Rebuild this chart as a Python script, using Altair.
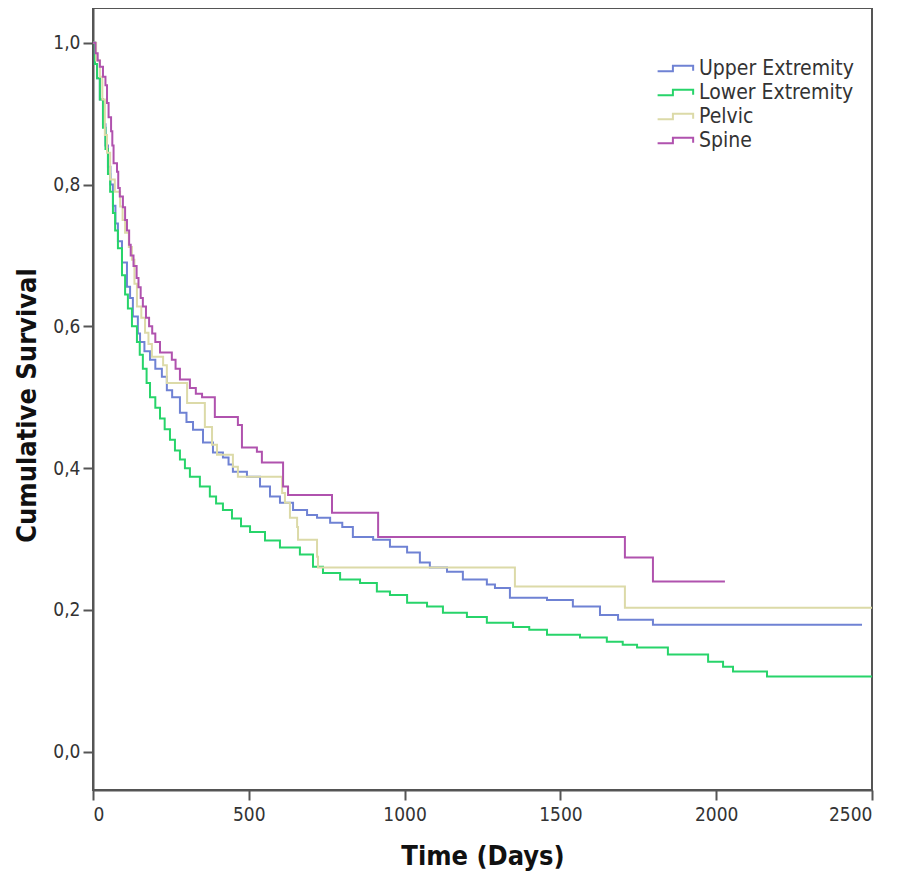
import altair as alt
import pandas as pd

series_names = ["Upper Extremity", "Lower Extremity", "Pelvic", "Spine"]
series_colors = ["#6f82d4", "#27d46a", "#dcdaa8", "#b052ae"]

upper_days = [0, 6, 13, 22, 32, 40, 48, 56, 64, 72, 80, 93, 109, 119, 128, 144, 151, 165, 183, 200,
              221, 237, 254, 279, 300, 321, 353, 385, 417, 435, 449, 494, 536, 568, 600, 642, 687,
              719, 761, 800, 834, 899, 953, 1008, 1049, 1081, 1136, 1187, 1264, 1290, 1338, 1457,
              1540, 1627, 1685, 1797, 2468]
upper_surv = [1.0, 0.97, 0.95, 0.92, 0.885, 0.855, 0.825, 0.80, 0.77, 0.745, 0.72, 0.69, 0.656,
              0.64, 0.614, 0.59, 0.578, 0.565, 0.553, 0.54, 0.529, 0.51, 0.50, 0.478, 0.465, 0.454,
              0.436, 0.422, 0.415, 0.405, 0.395, 0.388, 0.374, 0.36, 0.351, 0.341, 0.334, 0.33,
              0.323, 0.317, 0.303, 0.299, 0.289, 0.281, 0.267, 0.26, 0.254, 0.243, 0.236, 0.231,
              0.217, 0.214, 0.205, 0.193, 0.186, 0.179, 0.179]

lower_days = [0, 6, 13, 22, 32, 40, 48, 55, 64, 71, 80, 93, 103, 112, 125, 141, 150, 160, 172, 183,
              200, 215, 230, 247, 263, 279, 295, 311, 343, 375, 395, 417, 446, 475, 504, 552, 600,
              664, 706, 738, 793, 857, 911, 953, 1008, 1072, 1123, 1200, 1264, 1348, 1400, 1457,
              1563, 1649, 1700, 1746, 1845, 1974, 2022, 2054, 2163, 2500]
lower_surv = [1.0, 0.97, 0.95, 0.92, 0.88, 0.85, 0.815, 0.79, 0.76, 0.735, 0.71, 0.672, 0.645,
              0.625, 0.60, 0.578, 0.56, 0.54, 0.52, 0.50, 0.485, 0.47, 0.455, 0.44, 0.425, 0.412,
              0.40, 0.388, 0.374, 0.36, 0.35, 0.341, 0.329, 0.318, 0.31, 0.298, 0.288, 0.278,
              0.261, 0.252, 0.243, 0.238, 0.226, 0.221, 0.21, 0.205, 0.196, 0.19, 0.182, 0.176,
              0.172, 0.165, 0.161, 0.155, 0.151, 0.147, 0.137, 0.127, 0.12, 0.113, 0.106, 0.106]

pelvic_days = [0, 10, 22, 30, 38, 45, 55, 70, 87, 95, 103, 115, 125, 133, 141, 155, 167, 178, 189,
               225, 237, 302, 359, 382, 398, 449, 465, 607, 616, 632, 655, 658, 719, 722, 1354,
               1707, 2500]
pelvic_surv = [1.0, 0.975, 0.952, 0.92, 0.87, 0.845, 0.807, 0.79, 0.769, 0.75, 0.732, 0.712, 0.694,
               0.66, 0.628, 0.612, 0.591, 0.575, 0.557, 0.545, 0.52, 0.492, 0.458, 0.433, 0.419,
               0.402, 0.388, 0.365, 0.351, 0.33, 0.317, 0.299, 0.275, 0.26, 0.233, 0.203, 0.203]

spine_days = [0, 8, 15, 22, 32, 40, 45, 50, 58, 62, 66, 77, 81, 86, 96, 103, 109, 116, 121, 130,
              140, 146, 153, 160, 170, 180, 190, 200, 215, 253, 265, 279, 311, 330, 350, 391, 465,
              478, 526, 542, 610, 626, 767, 915, 1707, 1797, 2028]
spine_surv = [1.0, 0.985, 0.975, 0.966, 0.952, 0.94, 0.915, 0.895, 0.875, 0.855, 0.83, 0.818,
              0.795, 0.783, 0.768, 0.75, 0.735, 0.715, 0.70, 0.685, 0.668, 0.655, 0.64, 0.628,
              0.612, 0.60, 0.59, 0.578, 0.563, 0.553, 0.54, 0.525, 0.513, 0.505, 0.50, 0.472,
              0.461, 0.429, 0.423, 0.408, 0.374, 0.362, 0.337, 0.303, 0.274, 0.240, 0.240]

x_ticks = [0, 500, 1000, 1500, 2000, 2500]
y_ticks = [0.0, 0.2, 0.4, 0.6, 0.8, 1.0]

rows = []
for name, days, surv in zip(series_names,
                            [upper_days, lower_days, pelvic_days, spine_days],
                            [upper_surv, lower_surv, pelvic_surv, spine_surv]):
    for d, s in zip(days, surv):
        rows.append({"group": name, "day": d, "surv": s})
df = pd.DataFrame(rows)

FONT = "DejaVu Sans Condensed, Liberation Sans Narrow, DejaVu Sans"
AXC = "#555555"

step_symbol = "M-2.1,0.3 L-0.4,0.3 L-0.4,-0.3 L1.85,-0.3 L1.85,0.25"

chart = alt.Chart(df).mark_line(interpolate="step-after", strokeWidth=2).encode(
    x=alt.X("day:Q",
            scale=alt.Scale(domain=[0, 2500], nice=False, zero=False),
            axis=alt.Axis(title="Time (Days)", values=x_ticks, format="d", grid=False,
                          tickSize=10, tickWidth=2, tickColor=AXC, domainColor=AXC, domainWidth=2,
                          labelFont=FONT, labelFontSize=19, labelColor="#333333", labelPadding=5,
                          titleFont=FONT, titleFontSize=27, titleFontWeight="bold",
                          titleColor="#111111", titleY=66, titleBaseline="middle")),
    y=alt.Y("surv:Q",
            scale=alt.Scale(domain=[-0.054, 1.049], nice=False, zero=False),
            axis=alt.Axis(title="Cumulative Survival", values=y_ticks, grid=False,
                          labelExpr="replace(format(datum.value, '.1f'), '.', ',')",
                          tickSize=10, tickWidth=2, tickColor=AXC, domainColor=AXC, domainWidth=2,
                          labelFont=FONT, labelFontSize=19, labelColor="#333333", labelPadding=3,
                          titleFont=FONT, titleFontSize=27, titleFontWeight="bold",
                          titleColor="#111111", titleX=-66, titleY=397, titleBaseline="middle")),
    color=alt.Color("group:N",
                    scale=alt.Scale(domain=series_names, range=series_colors),
                    sort=series_names,
                    legend=alt.Legend(title=None, orient="none", legendX=573, legendY=50,
                                      symbolType=step_symbol, symbolSize=324,
                                      symbolStrokeWidth=2, labelFont=FONT, labelFontSize=21,
                                      labelColor="#333333", labelOffset=12, padding=0,
                                      rowPadding=2)),
).properties(
    width=779, height=782,
    padding={"left": 85, "top": 0, "right": 18, "bottom": 87},
    autosize=alt.AutoSizeParams(type="none"),
).configure_view(stroke=AXC, strokeWidth=2)

chart.save("out.html", embed_options={"renderer": "svg", "actions": False})
